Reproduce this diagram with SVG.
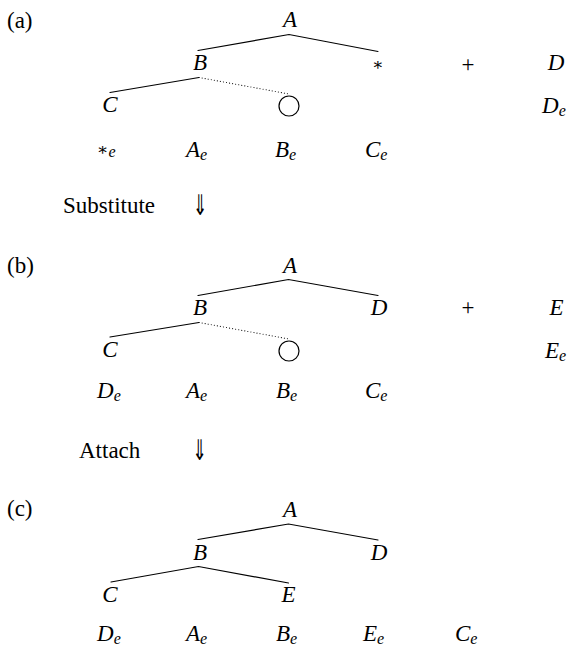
<svg xmlns="http://www.w3.org/2000/svg" width="574" height="647" viewBox="0 0 574 647">
<style>
  .t { font-family: "Liberation Serif", "Tinos", "Times New Roman", "DejaVu Serif", serif; font-size: 23px; fill: #000; }
  .m { font-family: "Liberation Serif", "Tinos", "Times New Roman", "DejaVu Serif", serif; font-style: italic; font-size: 23px; fill: #000; }
  .mc { text-anchor: middle; }
  .sub { font-size: 16px; font-style: italic; }
  .ast { font-family: "DejaVu Serif", serif; font-size: 17px; fill: #000; }
  .arr { font-family: "DejaVu Sans", sans-serif; font-size: 22px; fill: #000; text-anchor: middle; }
  .edge { stroke: #000; stroke-width: 1.2; fill: none; stroke-linecap: round; }
  .dot { stroke: #000; stroke-width: 1.1; fill: none; stroke-dasharray: 0.1 3; stroke-linecap: round; }
  .hole { stroke: #000; stroke-width: 1.2; fill: none; }
</style>

<!-- connectors -->
<g id="connectors">
  <!-- (a) -->
  <polyline class="edge" points="198,50.5 289,34.5 378,51.5"/>
  <line class="edge" x1="199" y1="77.5" x2="110" y2="92.5"/>
  <line class="dot" x1="199" y1="77.5" x2="289" y2="94"/>
  <!-- (b) -->
  <polyline class="edge" points="198,295.5 288.5,279.5 378,295.5"/>
  <line class="edge" x1="199" y1="322.5" x2="110" y2="337"/>
  <line class="dot" x1="199" y1="322.5" x2="289" y2="339"/>
  <!-- (c) -->
  <polyline class="edge" points="198,539.5 288.5,524 378,540"/>
  <polyline class="edge" points="111,582 198.5,566.5 288.5,583"/>
</g>

<!-- (a) -->
<g id="label-a"><text class="t" x="7" y="27.5">(a)</text></g>
<g id="a-A"><text class="m mc" x="290" y="27">A</text></g>
<g id="a-B"><text class="m mc" x="200" y="70">B</text></g>
<g id="a-star"><text class="ast mc" x="378" y="70">∗</text></g>
<g id="a-C"><text class="m mc" x="110" y="111.5">C</text></g>
<g id="a-hole"><circle class="hole" cx="289" cy="106" r="10"/></g>
<g id="a-plus"><text class="t mc" x="468" y="72">+</text></g>
<g id="a-D"><text class="m mc" x="556" y="70">D</text></g>
<g id="a-De"><text class="m" x="542" y="113">D<tspan class="sub" dy="3">e</tspan></text></g>
<g id="a-row">
  <text class="ast" x="97" y="155">∗<tspan class="m sub" dy="2">e</tspan></text>
  <text class="m" x="186" y="157">A<tspan class="sub" dy="3">e</tspan></text>
  <text class="m" x="275" y="157">B<tspan class="sub" dy="3">e</tspan></text>
  <text class="m" x="365" y="157">C<tspan class="sub" dy="3">e</tspan></text>
</g>

<g id="step-substitute">
  <text class="t" x="63" y="213">Substitute</text>
  <text class="arr" transform="translate(200,215) scale(0.8,1.3)">⇓</text>
</g>

<!-- (b) -->
<g id="label-b"><text class="t" x="7" y="272.5">(b)</text></g>
<g id="b-A"><text class="m mc" x="290" y="272.5">A</text></g>
<g id="b-B"><text class="m mc" x="200" y="315">B</text></g>
<g id="b-D"><text class="m mc" x="379" y="315">D</text></g>
<g id="b-C"><text class="m mc" x="110" y="356.5">C</text></g>
<g id="b-hole"><circle class="hole" cx="289" cy="351" r="10"/></g>
<g id="b-plus"><text class="t mc" x="468" y="315">+</text></g>
<g id="b-E"><text class="m mc" x="556.5" y="315">E</text></g>
<g id="b-Ee"><text class="m" x="545" y="358">E<tspan class="sub" dy="3">e</tspan></text></g>
<g id="b-row">
  <text class="m" x="97" y="398">D<tspan class="sub" dy="3">e</tspan></text>
  <text class="m" x="186" y="398">A<tspan class="sub" dy="3">e</tspan></text>
  <text class="m" x="276" y="398">B<tspan class="sub" dy="3">e</tspan></text>
  <text class="m" x="365" y="398">C<tspan class="sub" dy="3">e</tspan></text>
</g>

<g id="step-attach">
  <text class="t" x="79" y="458">Attach</text>
  <text class="arr" transform="translate(199.5,460) scale(0.8,1.3)">⇓</text>
</g>

<!-- (c) -->
<g id="label-c"><text class="t" x="7" y="516">(c)</text></g>
<g id="c-A"><text class="m mc" x="290" y="516.5">A</text></g>
<g id="c-B"><text class="m mc" x="200" y="560">B</text></g>
<g id="c-D"><text class="m mc" x="379" y="560">D</text></g>
<g id="c-C"><text class="m mc" x="110" y="601.5">C</text></g>
<g id="c-E"><text class="m mc" x="288.5" y="601.5">E</text></g>
<g id="c-row">
  <text class="m" x="97" y="641">D<tspan class="sub" dy="2.5">e</tspan></text>
  <text class="m" x="186" y="641">A<tspan class="sub" dy="2.5">e</tspan></text>
  <text class="m" x="276" y="641">B<tspan class="sub" dy="2.5">e</tspan></text>
  <text class="m" x="363" y="641">E<tspan class="sub" dy="2.5">e</tspan></text>
  <text class="m" x="455" y="641">C<tspan class="sub" dy="2.5">e</tspan></text>
</g>
</svg>
